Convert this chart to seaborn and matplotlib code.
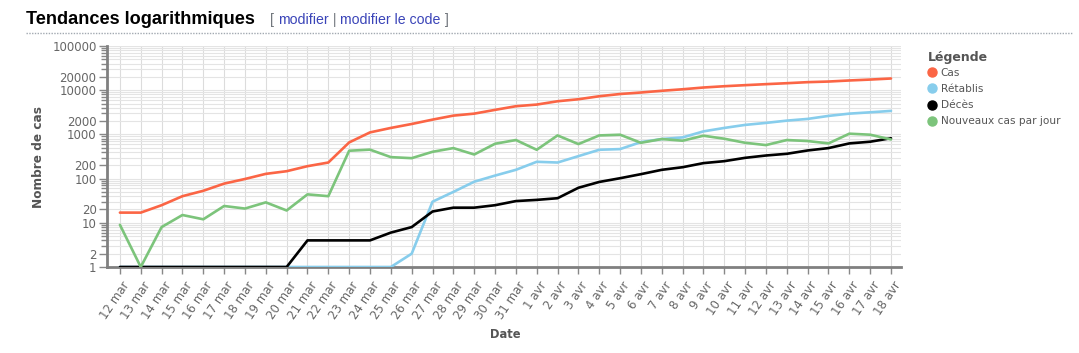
import numpy as np
import pandas as pd
import matplotlib
matplotlib.use("Agg")
import matplotlib.pyplot as plt
import seaborn as sns
from matplotlib.lines import Line2D
from matplotlib.ticker import FixedLocator, FixedFormatter, NullFormatter
from matplotlib.transforms import ScaledTranslation

# ---------------- data ----------------
dates = ["12 mar", "13 mar", "14 mar", "15 mar", "16 mar", "17 mar", "18 mar", "19 mar",
         "20 mar", "21 mar", "22 mar", "23 mar", "24 mar", "25 mar", "26 mar", "27 mar",
         "28 mar", "29 mar", "30 mar", "31 mar", "1 avr", "2 avr", "3 avr", "4 avr",
         "5 avr", "6 avr", "7 avr", "8 avr", "9 avr", "10 avr", "11 avr", "12 avr",
         "13 avr", "14 avr", "15 avr", "16 avr", "17 avr", "18 avr"]

cas = [17, 17, 25, 40, 53, 77, 98, 128, 147, 191, 231, 658, 1110, 1400, 1720, 2160,
       2660, 2950, 3590, 4340, 4730, 5620, 6240, 7300, 8200, 8870, 9700, 10500,
       11500, 12300, 13000, 13700, 14400, 15200, 15700, 16600, 17400, 18400]

retablis = [1, 1, 1, 1, 1, 1, 1, 1, 1, 1, 1, 1, 1, 1, 2, 30, 50, 85, 117, 158,
            240, 231, 322, 449, 465, 670, 785, 855, 1170, 1400, 1640, 1820, 2050,
            2240, 2620, 2950, 3160, 3400]

deces = [1, 1, 1, 1, 1, 1, 1, 1, 1, 4, 4, 4, 4, 6, 8, 18, 22, 22, 25, 31,
         33, 36, 62, 84, 102, 126, 158, 181, 224, 248, 295, 333, 364, 433, 490,
         625, 683, 820]

nouveaux = [9, 1, 8, 15, 12, 24, 21, 29, 19, 44, 40, 427, 452, 306, 290, 404, 490,
            351, 614, 746, 449, 948, 604, 948, 984, 646, 785, 720, 934, 798, 646,
            573, 746, 708, 625, 1038, 984, 769]

series_names = ["Cas", "Rétablis", "Décès", "Nouveaux cas par jour"]
series_colors = ["#fb6545", "#87cdec", "#000000", "#7cc47b"]
y_tick_values = [1, 2, 10, 20, 100, 200, 1000, 2000, 10000, 20000, 100000]
y_tick_labels = ["1", "2", "10", "20", "100", "200", "1000", "2000", "10000", "20000", "100000"]

# ---------------- build long table ----------------
n = len(dates)
idx = np.arange(n)
frames = []
for name, vals in zip(series_names, [cas, retablis, deces, nouveaux]):
    frames.append(pd.DataFrame({"idx": idx, "date": dates, "serie": name, "valeur": vals}))
df = pd.concat(frames, ignore_index=True)

sns.set_theme(style="white")
plt.rcParams["font.family"] = ["DejaVu Sans"]

W, H = 1079, 353
fig = plt.figure(figsize=(W / 100, H / 100), dpi=100)
ax = fig.add_axes([107 / W, (H - 267) / H, (901 - 107) / W, (267 - 46) / H])

sns.lineplot(data=df, x="idx", y="valeur", hue="serie", hue_order=series_names,
             palette=dict(zip(series_names, series_colors)), linewidth=1.9,
             sort=False, legend=False, ax=ax, zorder=3)

ax.set_yscale("log")
ax.set_ylim(1, 100000)
ax.set_xlim(-0.62, n - 1 + 0.48)

# y ticks
minor_vals = [m * 10 ** e for e in range(0, 5) for m in range(1, 10)
              if m * 10 ** e not in y_tick_values]
ax.yaxis.set_major_locator(FixedLocator(y_tick_values))
ax.yaxis.set_major_formatter(FixedFormatter(y_tick_labels))
ax.yaxis.set_minor_locator(FixedLocator(minor_vals))
ax.yaxis.set_minor_formatter(NullFormatter())

# x ticks
ax.set_xticks(idx)
ax.set_xticklabels(dates, rotation=56, ha="right", va="center", rotation_mode="anchor")

ax.grid(which="both", axis="y", color="#e4e4e4", linewidth=0.8, zorder=0)
ax.grid(which="major", axis="x", color="#dcdcdc", linewidth=0.8, zorder=0)

for s in ["top", "right"]:
    ax.spines[s].set_visible(False)
for s in ["left", "bottom"]:
    ax.spines[s].set_color("#808080")
    ax.spines[s].set_linewidth(2)

ax.tick_params(axis="both", which="both", bottom=True, left=True, direction="out",
               color="#888888", width=1, labelcolor="#666666", labelsize=8.5)
ax.tick_params(axis="y", which="major", length=6, pad=1.5)
ax.tick_params(axis="y", which="minor", length=4)
ax.tick_params(axis="x", which="major", length=5, pad=6.5)

offset = ScaledTranslation(7 / 100, 0, fig.dpi_scale_trans)
for lab in ax.get_xticklabels():
    lab.set_transform(lab.get_transform() + offset)

ax.set_xlabel("Date", fontweight="bold", color="#555555", fontsize=8.3)
ax.xaxis.set_label_coords((505 - 107) / (901 - 107), (267 - 334) / (267 - 46))
ax.xaxis.label.set_va("center")
ax.set_ylabel("Nombre de cas", fontweight="bold", color="#555555", fontsize=8.7)
ax.yaxis.set_label_coords((39 - 107) / (901 - 107), 0.5)
ax.yaxis.label.set_va("center")

# legend
fig.text(927.5 / W, 1 - 57 / H, "Légende", fontweight="bold", fontsize=9,
         color="#555555", va="center", ha="left")
handles = [Line2D([], [], marker="o", linestyle="", color=c, markersize=6.5)
           for c in series_colors]
leg = ax.legend(handles=handles, labels=series_names, loc="upper left",
                bbox_to_anchor=(928 / W, 1 - 68 / H), bbox_transform=fig.transFigure,
                frameon=False, fontsize=7.6,
                handlelength=0.8, handletextpad=0.4, labelspacing=0.58,
                borderaxespad=0, borderpad=0, labelcolor="#555555")

# header
ty = 1 - 24 / H
t1 = fig.text(26.5 / W, ty, "Tendances logarithmiques", fontweight="bold",
              fontsize=13.1, family="Liberation Sans", color="#000000", va="baseline")
fig.canvas.draw()
renderer = fig.canvas.get_renderer()
x_px = t1.get_window_extent(renderer).x1 + 15
pieces = [("[ ", "#72777d"), ("modifier", "#3a44b8"), (" | ", "#72777d"),
          ("modifier le code", "#3a44b8"), (" ]", "#72777d")]
for txt, col in pieces:
    t = fig.text(x_px / W, ty, txt, fontsize=10.2, family="Liberation Sans",
                 color=col, va="baseline")
    x_px = t.get_window_extent(renderer).x1

fig.add_artist(Line2D([26 / W, 1072 / W], [1 - 32.5 / H, 1 - 32.5 / H],
                      transform=fig.transFigure, color="#a2a9b1",
                      linewidth=1, linestyle=(0, (1, 1))))

fig.savefig("out.png", dpi=100)
